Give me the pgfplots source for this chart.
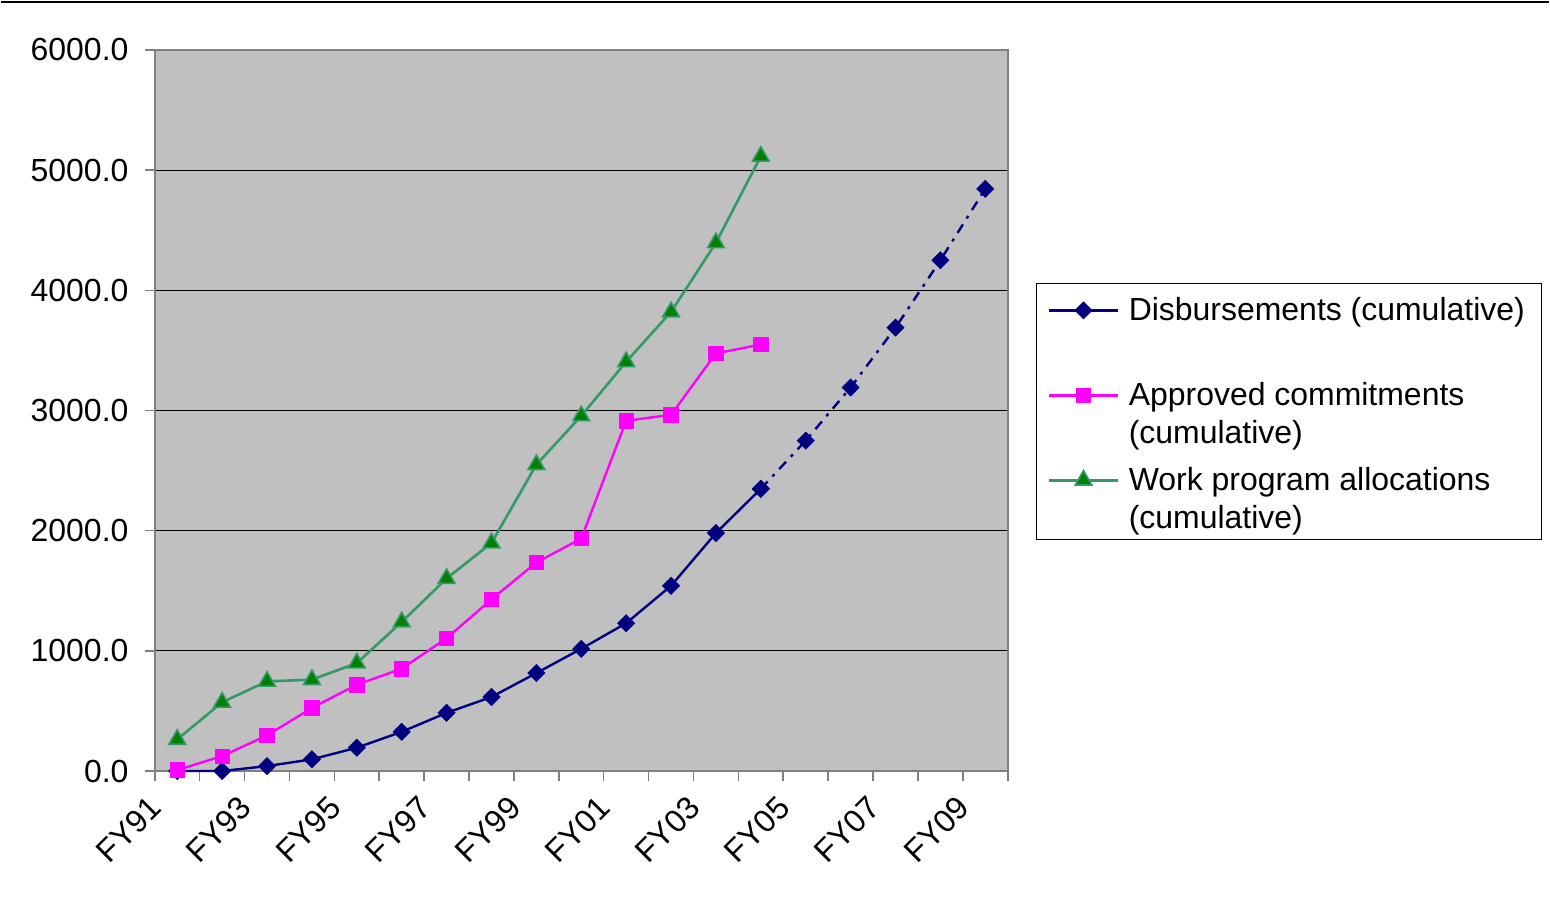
\documentclass[border=0pt]{standalone}
\usepackage{pgfplots}
\pgfplotsset{compat=1.18}
\usepackage{fontspec}
\setmainfont{Liberation Sans}

\definecolor{dnavy}{RGB}{0,0,128}
\definecolor{dmag}{RGB}{255,0,255}
\definecolor{wline}{RGB}{51,153,102}
\definecolor{wfill}{RGB}{0,128,0}
\definecolor{plotbg}{RGB}{192,192,192}
\definecolor{framegray}{RGB}{128,128,128}

% index 0 = FY91 ... 18 = FY09
\pgfplotstableread{
x disb
0 0
1 0
2 41
3 97
4 194
5 326
6 484
7 616
8 815
9 1017
10 1230
11 1541
12 1980
13 2348
}\disb
\pgfplotstableread{
x disb
13 2348
14 2749
15 3191
16 3689
17 4250
18 4844
}\disbproj
\pgfplotstableread{
x appr
0 8
1 124
2 296
3 525
4 718
5 851
6 1105
7 1428
8 1735
9 1934
10 2914
11 2964
12 3475
13 3549
}\appr
\pgfplotstableread{
x work
0 263
1 572
2 746
3 760
4 898
5 1240
6 1602
7 1897
8 2549
9 2955
10 3405
11 3820
12 4395
13 5115
}\work

\begin{document}
\fontsize{16}{19}\selectfont
\begin{tikzpicture}
\begin{axis}[
  scale only axis,
  width=427pt, height=361pt,
  xmin=-0.5, xmax=18.5,
  ymin=0, ymax=6000,
  clip=false,
  axis background/.style={fill=plotbg},
  axis line style={draw=framegray, line width=1pt},
  xtick={0,2,...,18},
  xticklabels={FY91,FY93,FY95,FY97,FY99,FY01,FY03,FY05,FY07,FY09},
  minor xtick={-0.5,0.5,...,18.5},
  major x tick style={draw=none},
  minor tick length=5pt,
  major tick length=5pt,
  tick align=outside,
  tick pos=left,
  tick style={draw=framegray, line width=0.8pt},
  ytick={0,1000,...,6000},
  ymajorgrids,
  major grid style={draw=black, line width=0.6pt},
  /pgf/number format/assume math mode=true,
  yticklabel style={/pgf/number format/fixed, /pgf/number format/fixed zerofill,
    /pgf/number format/precision=1, /pgf/number format/1000 sep={}},
  yticklabel style={anchor=east, inner sep=0pt, xshift=-8pt, font=\fontsize{16}{19}\selectfont},
  xticklabel style={xshift=-14.8pt, yshift=-6.5pt, rotate=45, anchor=north east, inner sep=0pt, font=\fontsize{16}{19}\selectfont},
  legend image code/.code={
    \draw[mark repeat=2, mark phase=2] plot coordinates {(0pt,5pt) (17.5pt,5pt) (35pt,5pt)};
  },
  legend style={
    at={(1.0328,0.677)}, anchor=north west,
    draw=black, line width=0.6pt, fill=white,
    inner xsep=5.5pt, inner ysep=0pt,
    row sep=4.5pt, column sep=4.5pt,
    cells={anchor=base west},
    nodes={inner sep=0pt},
    font=\fontsize{16}{19}\selectfont,
  },
]
\addplot[dnavy, line width=1.2pt, mark=square*, mark size=3pt,
  mark options={rotate=45, solid, fill=dnavy, draw=dnavy, line width=0.4pt}]
  table[x=x, y=disb] {\disb};
\addlegendentry[text height=18.5pt, text depth=24.7pt]{\parbox[t]{201pt}{Disbursements (cumulative)}}
\addplot[dnavy, line width=1.2pt, dash pattern=on 5pt off 3.5pt on 1.5pt off 3.5pt,
  mark=square*, mark size=3pt,
  mark options={rotate=45, solid, fill=dnavy, draw=dnavy, line width=0.4pt}, forget plot]
  table[x=x, y=disb] {\disbproj};
\addplot[dmag, line width=1.2pt, mark=square*, mark size=3.6pt,
  mark options={solid, fill=dmag, draw=dmag, line width=0.4pt}]
  table[x=x, y=appr] {\appr};
\addlegendentry[text height=13.3pt, text depth=24.7pt]{\parbox[t]{201pt}{\strut Approved commitments\\\strut(cumulative)}}
\addplot[wline, line width=1.3pt, mark=triangle*, mark size=4.8pt,
  mark options={solid, fill=wfill, draw=wline, line width=0.8pt}]
  table[x=x, y=work] {\work};
\addlegendentry[text height=13.3pt, text depth=24.7pt]{\parbox[t]{201pt}{\strut Work program allocations\\\strut(cumulative)}}
\end{axis}
\draw[line width=1pt] (-77pt,385pt) -- (698pt,385pt);
\useasboundingbox (-77pt,-65pt) rectangle (698pt,386pt);
\end{tikzpicture}
\end{document}
